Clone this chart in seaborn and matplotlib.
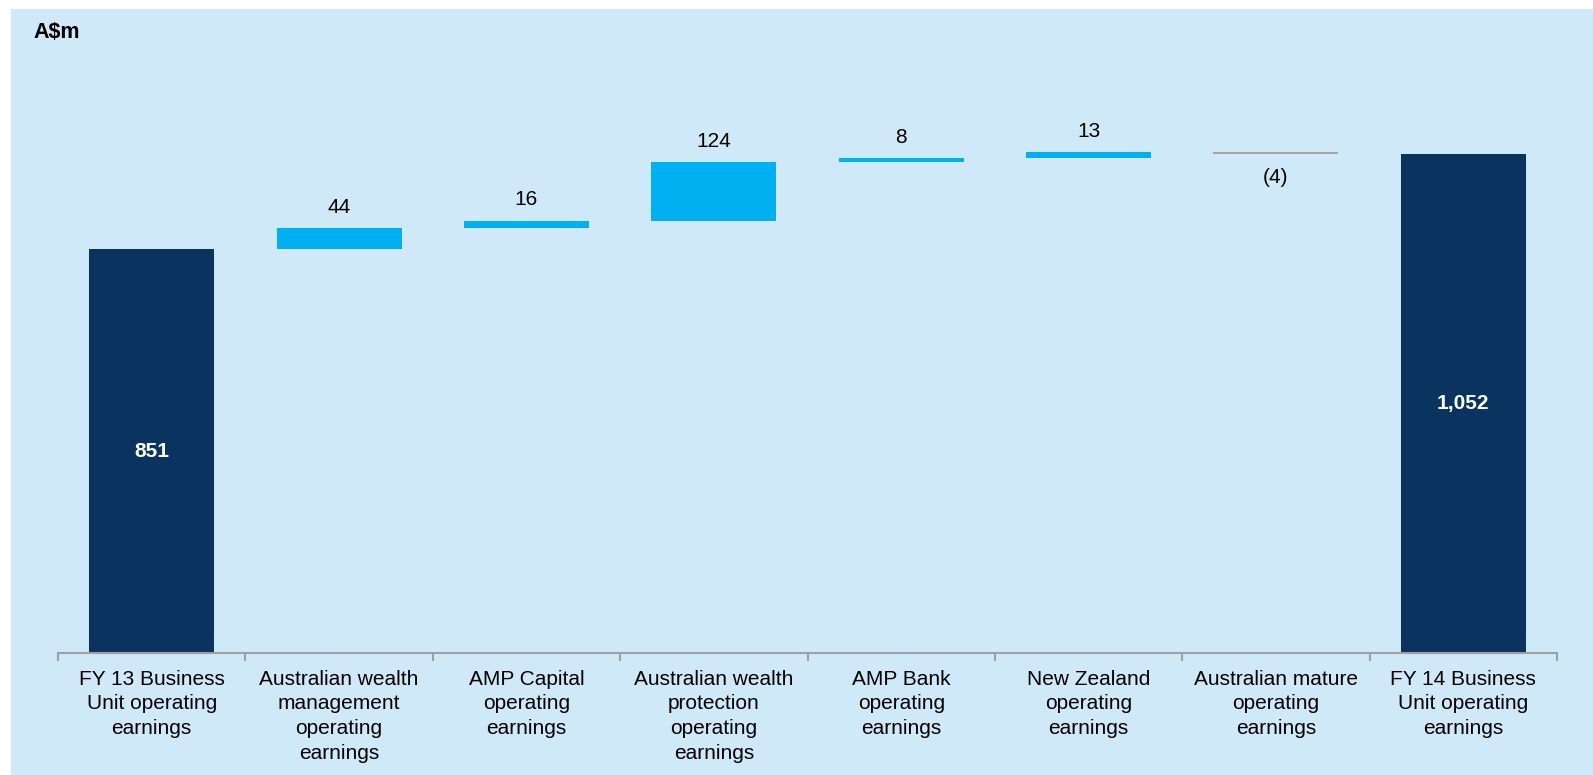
import numpy as np
import matplotlib
matplotlib.use("Agg")
import matplotlib.pyplot as plt
import seaborn as sns
from matplotlib.patches import Rectangle

categories = [
    "FY 13 Business\nUnit operating\nearnings",
    "Australian wealth\nmanagement\noperating\nearnings",
    "AMP Capital\noperating\nearnings",
    "Australian wealth\nprotection\noperating\nearnings",
    "AMP Bank\noperating\nearnings",
    "New Zealand\noperating\nearnings",
    "Australian mature\noperating\nearnings",
    "FY 14 Business\nUnit operating\nearnings",
]
start_total = 851
deltas = [44, 16, 124, 8, 13, -4]
end_total = 1052

bg = "#cfe9f8"
navy = "#0b3360"
cyan = "#00b0f0"
grey = "#a6a6a6"

# waterfall geometry
running = np.cumsum([start_total] + deltas)
bottoms = [0] + list(running[:-1]) + [0]
heights = [start_total] + deltas + [end_total]
colors = [navy] + [cyan if d >= 0 else grey for d in deltas] + [navy]

sns.set_style("white")
plt.rcParams["font.family"] = ["Liberation Sans", "DejaVu Sans"]

fig = plt.figure(figsize=(15.93, 7.75), dpi=100, facecolor="white")
fig.patches.append(Rectangle((11 / 1593, 0), 1, 1 - 9 / 775, transform=fig.transFigure,
                             facecolor=bg, edgecolor="none", zorder=-10))

ax = fig.add_axes([58 / 1593, 1 - 653 / 775, (1557 - 58) / 1593, (653 - 30) / 775])
ax.set_facecolor("none")

sns.barplot(x=categories, y=heights, bottom=bottoms, color=navy, saturation=1,
            width=0.667, linewidth=0, ax=ax)
for p, c in zip(ax.patches, colors):
    p.set_facecolor(c)

ax.set_xlim(-0.5, 7.5)
ax.set_ylim(0, (653 - 30) / 0.4747)

# value labels
for i, (b, h) in enumerate(zip(bottoms, heights)):
    if i == 0 or i == len(heights) - 1:
        ax.text(i, h / 2, f"{h:,}", color="white", fontsize=15, fontweight="bold",
                ha="center", va="center")
    elif h >= 0:
        ax.annotate(f"{h}", (i, b + h), xytext=(0, 8), textcoords="offset points",
                    ha="center", va="bottom", fontsize=15, color="black")
    else:
        ax.annotate(f"({abs(h)})", (i, b + h), xytext=(0, -10), textcoords="offset points",
                    ha="center", va="top", fontsize=15, color="black")

for s in ["top", "right", "left"]:
    ax.spines[s].set_visible(False)
ax.spines["bottom"].set_color("#a0a0a0")
ax.spines["bottom"].set_linewidth(1.5)
ax.set_yticks([])
ax.set_xticks(range(len(categories)))
ax.set_xticklabels(categories, linespacing=1.38)
ax.set_xticks(np.arange(-0.5, 8, 1), minor=True)
ax.tick_params(axis="x", which="major", bottom=False, length=0, pad=12, labelsize=15,
               labelcolor="black")
ax.tick_params(axis="x", which="minor", bottom=True, length=6, width=1.5,
               color="#a0a0a0", direction="out")
ax.set_xlabel("")

fig.text(33 / 1593, 1 - 33 / 775, "A$m", fontsize=15.5, fontweight="bold", color="black",
         va="center", ha="left")

fig.savefig("out.png", dpi=100, facecolor="white")
